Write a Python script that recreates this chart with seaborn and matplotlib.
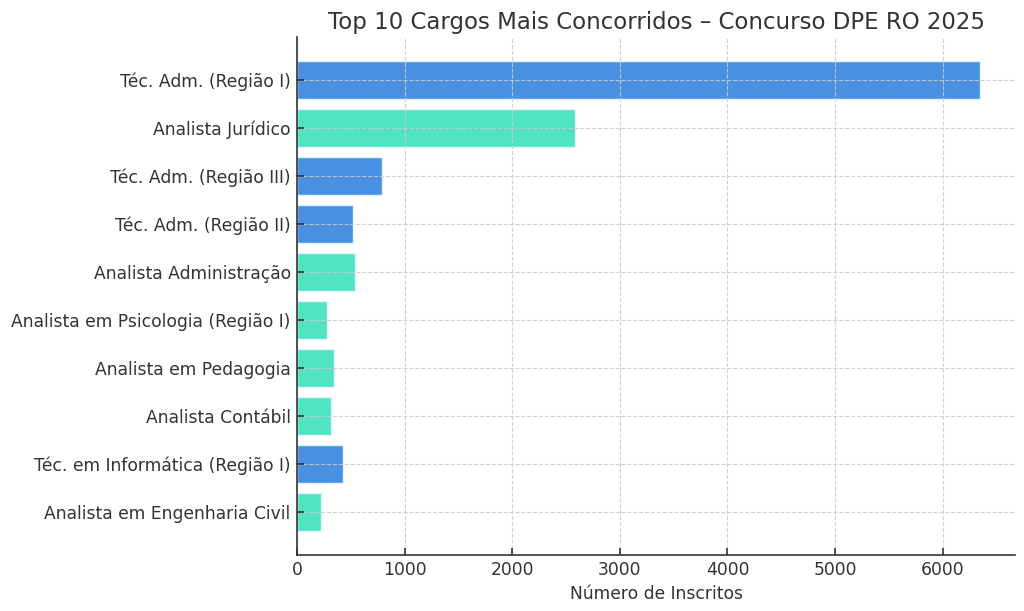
import matplotlib
matplotlib.use("Agg")
import matplotlib.pyplot as plt
import seaborn as sns
import pandas as pd

cargos = [
    "Téc. Adm. (Região I)",
    "Analista Jurídico",
    "Téc. Adm. (Região III)",
    "Téc. Adm. (Região II)",
    "Analista Administração",
    "Analista em Psicologia (Região I)",
    "Analista em Pedagogia",
    "Analista Contábil",
    "Téc. em Informática (Região I)",
    "Analista em Engenharia Civil",
]
inscritos = [6344, 2580, 790, 520, 542, 282, 348, 320, 425, 223]
tipos = ["Técnico", "Analista", "Técnico", "Técnico", "Analista",
         "Analista", "Analista", "Analista", "Técnico", "Analista"]
cores = {"Técnico": "#4A90E2", "Analista": "#50E3C2"}
xticks = [0, 1000, 2000, 3000, 4000, 5000, 6000]

df = pd.DataFrame({"cargo": cargos, "inscritos": inscritos, "tipo": tipos})

sns.set_theme(style="white")
plt.rcParams["font.family"] = ["DejaVu Sans"]
plt.rcParams["text.color"] = "#333333"
plt.rcParams["axes.labelcolor"] = "#333333"
plt.rcParams["xtick.color"] = "#333333"
plt.rcParams["ytick.color"] = "#333333"

fig = plt.figure(figsize=(10.24, 6.11), dpi=100)
ax = fig.add_axes([297/1024, 1-555/611, (1015-297)/1024, (555-37)/611])

sns.barplot(data=df, y="cargo", x="inscritos", hue="tipo", palette=cores,
            dodge=False, legend=False, width=0.8, orient="h", ax=ax,
            edgecolor="#dff5ff", linewidth=1, saturation=1)

n = len(cargos)
ax.set_ylim(n - 1 + 0.4 + 0.49, -0.4 - 0.49)
ax.set_xlim(0, 6672)

ax.grid(True, linestyle="--", color="#cccccc", linewidth=0.8, alpha=0.9)
ax.set_axisbelow(False)
for b in ax.patches:
    b.set_zorder(1)

sns.despine(ax=ax, top=True, right=True)
for s in ["left", "bottom"]:
    ax.spines[s].set_color("#333333")
    ax.spines[s].set_linewidth(1.2)
    ax.spines[s].set_zorder(5)

ax.tick_params(axis="both", direction="in", length=5, width=1.2, labelsize=12.3, pad=4.5,
               left=True, bottom=True)
ax.set_xticks(xticks)
ax.set_ylabel("")
ax.set_xlabel("Número de Inscritos", fontsize=12.3)
ax.set_title("Top 10 Cargos Mais Concorridos – Concurso DPE RO 2025", fontsize=16.5)

fig.savefig("out.png", dpi=100)
